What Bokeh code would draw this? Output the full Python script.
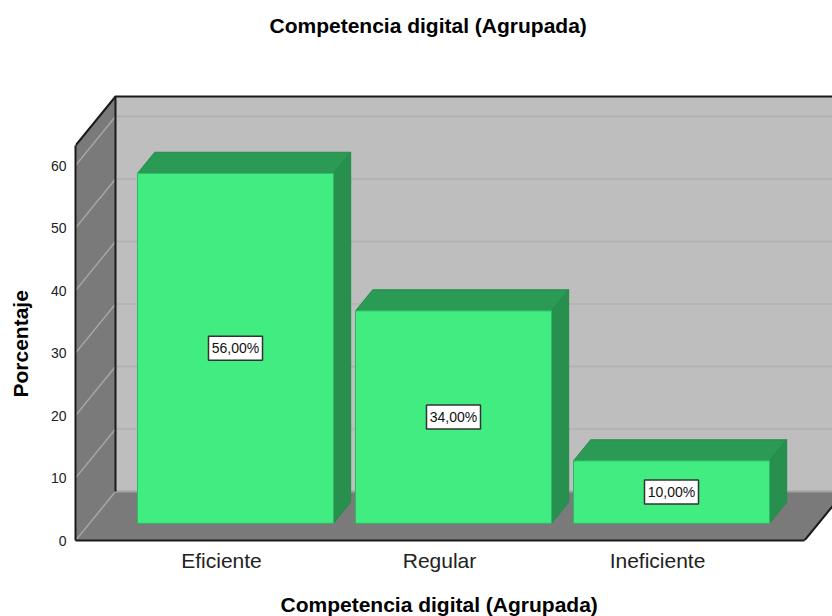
from bokeh.plotting import figure
from bokeh.embed import file_html
from bokeh.resources import INLINE
from bokeh.models import Range1d, FixedTicker, Title
from bokeh.core.properties import value

chart_title = "Competencia digital (Agrupada)"
y_title = "Porcentaje"
categories = ["Eficiente", "Regular", "Ineficiente"]
percentages = [56, 34, 10]
bar_labels = ["56,00%", "34,00%", "10,00%"]
y_ticks = [0, 10, 20, 30, 40, 50, 60]
grid_values = [10, 20, 30, 40, 50, 60]
axis_top = 63.2

PX_X = 218.0      # px per category
PX_Y = 6.25       # px per percent
DX, DY = 40 / PX_X, 49 / PX_Y   # full depth of the box, in data units
F, B = 0.35, 0.78               # bar front / back depth fraction
HW = 98 / PX_X
xL, xR = (75 - 221) / PX_X, (804 - 221) / PX_X
font = "Liberation Sans"

p = figure(width=832, height=616, output_backend="svg", toolbar_location=None,
           x_range=Range1d(xL, (832 - 221) / PX_X), y_range=Range1d(0, 492 / PX_Y),
           frame_height=492, frame_width=757,
           min_border_left=75, min_border_right=0, min_border_top=0, min_border_bottom=76,
           background_fill_color="white", border_fill_color="white", outline_line_color=None)
p.grid.visible = False

# box walls
p.patch([xL + DX, xR + 2 * DX, xR + 2 * DX, xL + DX],
        [DY, DY, axis_top + DY, axis_top + DY], fill_color="#BEBEBE", line_color=None)
p.patch([xL, xR, xR + DX, xL + DX], [0, 0, DY, DY], fill_color="#7A7A7A", line_color=None)
p.patch([xL, xL + DX, xL + DX, xL], [0, DY, axis_top + DY, axis_top],
        fill_color="#7A7A7A", line_color=None)

# grid lines
for v in grid_values:
    p.line([xL + DX, xR + 2 * DX], [v + DY, v + DY], line_color="#B0B0B0", line_width=1.5)
    p.line([xL, xL + DX], [v, v + DY], line_color="#A6A6A6", line_width=1.5)
p.line([xL + DX, xR + DX, xR + 2 * DX], [DY, DY, DY], line_color="#A2A2A2", line_width=2)
p.line([xL, xL + DX], [0, DY], line_color="#A6A6A6", line_width=1.5)

# black edges
p.line([xL, xL + DX, xR + 2 * DX], [axis_top, axis_top + DY, axis_top + DY],
       line_color="#1A1A1A", line_width=2)
p.line([xL + DX, xL + DX], [DY, axis_top + DY], line_color="#1A1A1A", line_width=2)
p.line([xR, xR + DX], [0, DY], line_color="#1A1A1A", line_width=2)

# bars
for i, v in enumerate(percentages):
    lf, rf = i - HW + DX * F, i + HW + DX * F
    lb, rb = i - HW + DX * B, i + HW + DX * B
    b0, b1 = DY * F, DY * B
    p.patch([lf, rf, rb, lb], [b0 + v, b0 + v, b1 + v, b1 + v],
            fill_color="#2B9A55", line_color="#258A4B", line_width=1)
    p.patch([rf, rb, rb, rf], [b0, b1, b1 + v, b0 + v],
            fill_color="#27904F", line_color="#258A4B", line_width=1)
    p.patch([lf, rf, rf, lf], [b0, b0, b0 + v, b0 + v],
            fill_color="#41EC80", line_color="#2FB865", line_width=1)

# value labels
cx = [i + DX * F for i in range(len(percentages))]
cy = [v / 2 + DY * F for v in percentages]
p.rect(cx, cy, width=54, height=24, width_units="screen", height_units="screen",
       fill_color="white", line_color="#333333", line_width=1.5)
p.text(cx, cy, text=bar_labels, text_font=value(font), text_font_size="14px",
       text_color="#111111", text_align="center", text_baseline="middle")

# axes
ax = p.yaxis[0]
ax.ticker = FixedTicker(ticks=y_ticks)
ax.bounds = (0, axis_top)
ax.axis_line_color = "#1A1A1A"
ax.axis_line_width = 2
ax.major_tick_line_color = None
ax.minor_tick_line_color = None
ax.major_label_text_font = font
ax.major_label_text_font_size = "14px"
ax.major_label_text_color = "#222222"
ax.major_label_standoff = 3

bx = p.xaxis[0]
bx.ticker = FixedTicker(ticks=list(range(len(categories))))
bx.major_label_overrides = {i: c for i, c in enumerate(categories)}
bx.bounds = (xL, xR)
bx.axis_line_color = "#1A1A1A"
bx.axis_line_width = 2
bx.major_tick_line_color = None
bx.minor_tick_line_color = None
bx.major_label_text_font = font
bx.major_label_text_font_size = "21px"
bx.major_label_text_color = "#222222"
bx.major_label_standoff = 2

def title(text, offset, standoff, where, size="21px"):
    p.add_layout(Title(text=text, align="left", offset=offset, standoff=standoff,
                       text_font=font, text_font_size=size, text_font_style="bold",
                       text_color="black"), where)

title(chart_title, 194, 23, "above")
title(chart_title, 205, 33, "below")
title(" ", 0, 6, "left", size="1px")   # spacer between the tick labels and the y title
title(y_title, 143, 13, "left")

open("out.html", "w").write(file_html(p, INLINE))
